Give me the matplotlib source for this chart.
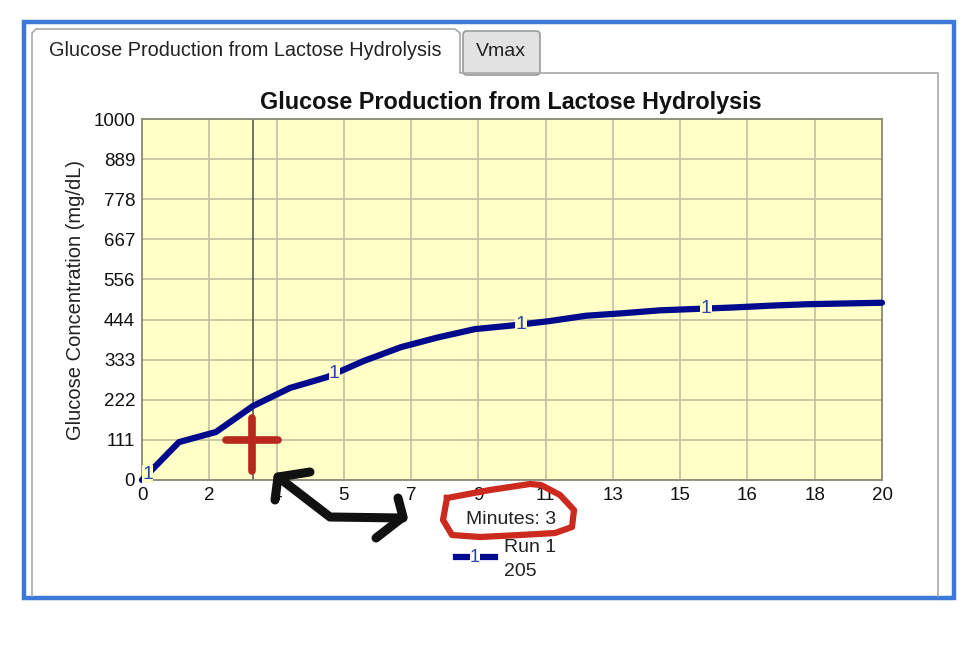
import numpy as np
import matplotlib
matplotlib.use("Agg")
import matplotlib.pyplot as plt
from matplotlib.patches import Rectangle, FancyBboxPatch

plt.rcParams['font.family'] = ['Liberation Sans', 'DejaVu Sans']

# data
minutes = [0, 1, 2, 3, 4, 5, 6, 7, 8, 9, 10, 11, 12, 13, 14, 15, 16, 17, 18, 19, 20]
glucose = [0, 105, 133, 205, 255, 285, 330, 368, 395, 418, 428, 440, 455, 462, 470, 474, 478, 483, 487, 489, 491]
x_tick_labels = ['0', '2', '4', '5', '7', '9', '11', '13', '15', '16', '18', '20']
y_tick_labels = ['0', '111', '222', '333', '444', '556', '667', '778', '889', '1000']
run_marks = [0.15, 5.2, 10.25, 15.25]
cursor_min = 3
cursor_val = 205

W, H = 964, 648
fig = plt.figure(figsize=(W / 100, H / 100), dpi=100)

# background layer in pixel coords (window frame, tabs)
bg = fig.add_axes([0, 0, 1, 1], zorder=0)
bg.set_xlim(0, W)
bg.set_ylim(H, 0)
bg.axis('off')

grey = '#a8a8a8'
# Vmax tab
bg.add_patch(FancyBboxPatch((463, 31), 77, 44, boxstyle='round,pad=0,rounding_size=4',
                            fc='#e2e2e2', ec='#9a9a9a', lw=1.2))
bg.text(501, 51, 'Vmax', ha='center', va='center', fontsize=14, color='#222222')
# panel + active tab outline
bg.plot([32, 32, 36, 455, 460, 460, 938, 938],
        [596, 33, 29, 29, 33, 73, 73, 596], color=grey, lw=1.2)
bg.add_patch(Rectangle((33, 30), 426, 45, fc='white', ec='none'))
bg.text(245, 51, 'Glucose Production from Lactose Hydrolysis', ha='center', va='center',
        fontsize=14.3, color='#222222')
# blue outer border
bg.add_patch(Rectangle((24, 22), 930, 576, fill=False, ec='#3b78d8', lw=3.2))

bg.text(511, 102, 'Glucose Production from Lactose Hydrolysis', ha='center', va='center',
        fontsize=16.8, fontweight='bold', color='#111111')

# chart
ax = fig.add_axes([142 / W, 1 - 480 / H, 740 / W, 361 / H], zorder=1)
ax.set_facecolor('#ffffc8')
ax.set_xlim(0, 20)
ax.set_ylim(0, 1000)
ax.set_xticks(np.linspace(0, 20, len(x_tick_labels)))
ax.set_xticklabels(x_tick_labels)
ax.set_yticks(np.linspace(0, 1000, len(y_tick_labels)))
ax.set_yticklabels(y_tick_labels)
ax.tick_params(length=0, labelsize=13.5, colors='#111111', pad=5)
ax.grid(True, color='#c6c4a4', lw=1.3)
for s in ax.spines.values():
    s.set_color('#8a8a78')
    s.set_linewidth(1.3)
ax.set_ylabel('Glucose Concentration (mg/dL)', fontsize=14.5, color='#222222', labelpad=6)

ax.axvline(cursor_min, color='#5a5a50', lw=1.2, zorder=2)
ax.plot(minutes, glucose, color='#000a8c', lw=4.5, solid_capstyle='round', zorder=3, clip_on=False)
for m in run_marks:
    ax.text(m, np.interp(m, minutes, glucose), '1', ha='center', va='center', fontsize=14,
            color='#2a44b0', zorder=4,
            bbox=dict(boxstyle='square,pad=0.02', fc='#ffffc8', ec='none'))

# foreground layer: cursor readout, legend and hand-drawn marks
fg = fig.add_axes([0, 0, 1, 1], zorder=2)
fg.set_xlim(0, W)
fg.set_ylim(H, 0)
fg.axis('off')
fg.patch.set_alpha(0)

fg.text(511, 520, f'Minutes: {cursor_min}', ha='center', va='center', fontsize=14, color='#222222')
fg.plot([456, 495], [557, 557], color='#000a8c', lw=4.5)
fg.text(475, 558, '1', ha='center', va='center', fontsize=13, color='#2a44b0',
        bbox=dict(boxstyle='square,pad=0.02', fc='white', ec='none'))
fg.text(504, 548, 'Run 1', ha='left', va='center', fontsize=14, color='#222222')
fg.text(504, 571, f'{cursor_val}', ha='left', va='center', fontsize=14, color='#222222')

red = '#b8281c'
fg.plot([226, 278], [440, 440], color=red, lw=5.5, solid_capstyle='round')
fg.plot([252, 252], [418, 471], color=red, lw=5.5, solid_capstyle='round')

fg.plot([447, 490, 530, 541, 560, 574, 572, 555, 520, 480, 452, 443, 447],
        [498, 490, 484, 485, 495, 510, 527, 533, 535, 537, 535, 520, 498],
        color='#cc2a1e', lw=4.5, solid_joinstyle='round')

blk = '#111111'
fg.plot([310, 278, 275], [472, 477, 500], color=blk, lw=6.5, solid_capstyle='round',
        solid_joinstyle='round')
fg.plot([278, 330, 403], [477, 517, 518], color=blk, lw=6.5, solid_capstyle='round',
        solid_joinstyle='round')
fg.plot([398, 403, 376], [498, 517, 538], color=blk, lw=6.5, solid_capstyle='round',
        solid_joinstyle='round')

fig.savefig('out.png', dpi=100, facecolor='white')
